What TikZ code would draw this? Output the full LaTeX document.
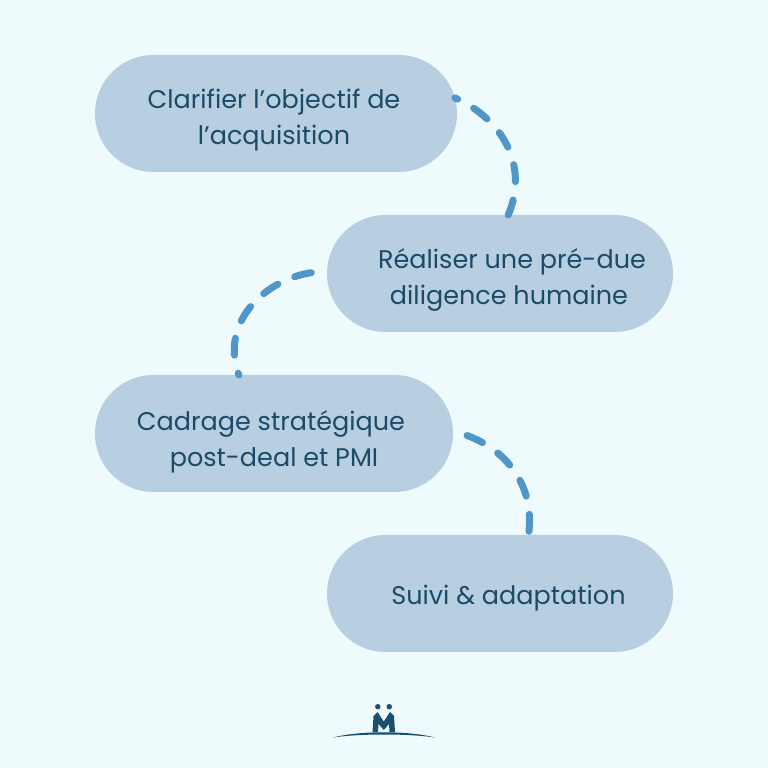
\documentclass[tikz,border=0pt]{standalone}
\usepackage{fontspec}
\setmainfont{Poppins}
\usepackage{xcolor}
\usetikzlibrary{shapes.misc}
\definecolor{bgpale}{HTML}{EFFAFC}
\definecolor{blobblue}{HTML}{B7CFE0}
\definecolor{linkblue}{HTML}{4F96C9}
\definecolor{inkblue}{HTML}{1B4B69}
\definecolor{logoblue}{HTML}{1A4F6E}
\tikzset{
  blob/.style={shape=rounded rectangle,fill=blobblue,minimum width=#1,minimum height=117,inner sep=0pt,outer sep=0pt},
  lbl/.style={text=inkblue,font=\fontsize{25.5}{36}\selectfont,align=center,inner sep=0pt},
  link/.style={draw=linkblue,line width=7pt,line cap=round,dash pattern=on 17pt off 18.5pt}
}
\begin{document}
\begin{tikzpicture}[x=1pt,y=1pt]
\useasboundingbox (0,0) rectangle (768,768);
\fill[bgpale] (0,0) rectangle (768,768);

% boxes
\node[blob=362] (objectif) at (276,654.5) {};
\node[blob=346] (diligence) at (500,494.5) {};
\node[blob=358] (cadrage) at (274,334.5) {};
\node[blob=346] (suivi) at (500,174.5) {};

\node[lbl] (objectiflbl) at (274,648) {Clarifier l’objectif de\\l’acquisition};
\node[lbl] (diligencelbl) at (512,488) {Réaliser une pré-due\\diligence humaine\hspace*{6pt}};
\node[lbl] (cadragelbl) at (271,326.5) {Cadrage stratégique\\\hspace*{6pt}post-deal et PMI};
\node[lbl] (suivilbl) at (508.5,169.5) {Suivi \& adaptation};

% links
\draw[link,dash phase=14pt] (objectif.5) to [out=-24,in=67,looseness=1.05] (diligence.82);
\draw[link,shorten <=16pt] (diligence.179) to [out=188,in=110,looseness=1.1] (cadrage.121);
\draw[link,shorten <=15pt] (cadrage.1) to [out=-20,in=82,looseness=1.05] (suivi.64);

% logo
\fill[logoblue] (333,30.5) .. controls (360,37.5) and (408,37.5) .. (435,30.5) .. controls (408,34.5) and (360,34.5) .. cycle;
\fill[logoblue] (377.8,61.3) circle [radius=2.7];
\fill[logoblue] (389.3,61.3) circle [radius=2.7];
\fill[logoblue] (372.5,36) -- (373.5,52) -- (377.5,56) -- (383.8,46.5) -- (390,56) -- (394,52) -- (395,36) -- (389.5,36) -- (389,44) -- (383.8,38) -- (378.5,44) -- (378,36) -- cycle;
\end{tikzpicture}
\end{document}
